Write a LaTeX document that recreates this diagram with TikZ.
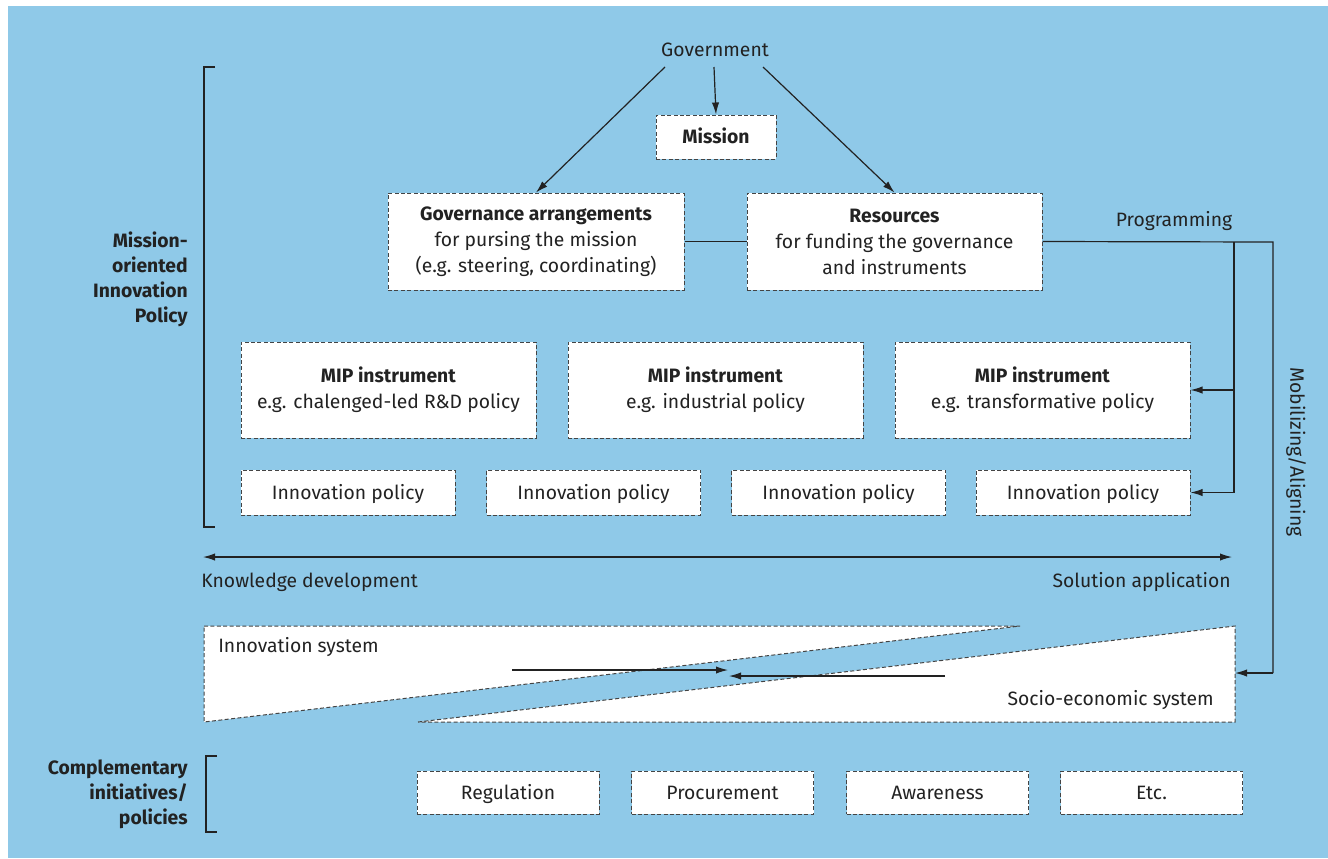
\documentclass[tikz,border=0pt]{standalone}
\usepackage{fontspec}
\setmainfont{Fira Sans}
\usetikzlibrary{arrows.meta}
\definecolor{bgblue}{HTML}{8FC9E8}
\definecolor{ink}{HTML}{222222}
\definecolor{dashc}{HTML}{444444}
\tikzset{
  every node/.style={text=ink, font=\fontsize{14.5}{19.5}\selectfont},
  box/.style={draw=dashc, dash pattern=on 3pt off 1.8pt, line width=0.75pt, fill=white, inner sep=0pt, align=center},
  oneline/.style={text height=11.9pt, text depth=1.9pt},
  arr/.style={draw=ink, line width=0.9pt, -{Latex[length=9pt,width=5.5pt]}},
  ln/.style={draw=ink, line width=0.9pt},
  tri/.style={draw=dashc, dash pattern=on 3pt off 1.8pt, line width=0.75pt, fill=white},
  lbl/.style={font=\fontsize{14.5}{18.8}\selectfont\bfseries, align=right, inner sep=0pt}
}
\begin{document}
\begin{tikzpicture}[x=0.75pt,y=-0.75pt]
\useasboundingbox (0,0) rectangle (1328,858);
\fill[white] (0,0) rectangle (1328,858);
\fill[bgblue] (8,6) rectangle (1328,858);

% top
\node (gvt) at (715,50) {Government};
\node[box, oneline, minimum width=120*0.75pt, minimum height=44*0.75pt] (mis) at (716,137) {\textbf{Mission}};
\node[box, minimum width=296*0.75pt, minimum height=97*0.75pt] (gov) at (536,241.5) {\textbf{Governance arrangements}\\for pursing the mission\\(e.g. steering, coordinating)};
\node[box, minimum width=295*0.75pt, minimum height=97*0.75pt] (res) at (894.5,241.5) {\textbf{Resources}\\for funding the governance\\and instruments};
\coordinate (g1) at (665,67);
\coordinate (g2) at (714,67);
\coordinate (g3) at (763,67);
\draw[arr] (g1) -- (gov.north);
\draw[arr] (g2) -- (mis.north);
\draw[arr] (g3) -- (res.north);
\draw[ln] (gov.east) -- (res.west);

% MIP instruments
\node[box, minimum width=295*0.75pt, minimum height=96*0.75pt] (mip1) at (388.5,390) {\textbf{MIP instrument}\\e.g. chalenged-led R\&D policy};
\node[box, minimum width=295*0.75pt, minimum height=96*0.75pt] (mip2) at (715.5,390) {\textbf{MIP instrument}\\e.g. industrial policy};
\node[box, minimum width=295*0.75pt, minimum height=96*0.75pt] (mip3) at (1042.5,390) {\textbf{MIP instrument}\\e.g. transformative policy};

\node[box, oneline, minimum width=214*0.75pt, minimum height=45*0.75pt] (ip1) at (348,492.5) {Innovation policy};
\node[box, oneline, minimum width=214*0.75pt, minimum height=45*0.75pt] (ip2) at (593.5,492.5) {Innovation policy};
\node[box, oneline, minimum width=214*0.75pt, minimum height=45*0.75pt] (ip3) at (838.5,492.5) {Innovation policy};
\node[box, oneline, minimum width=214*0.75pt, minimum height=45*0.75pt] (ip4) at (1083,492.5) {Innovation policy};

% programming / mobilizing
\coordinate (pj) at (1234,242);
\coordinate (pc) at (1273,242);
\coordinate (pd) at (1273,673);
\coordinate (se) at (1235,673);
\node (prog) at (1174,221) {Programming};
\draw[ln] (res.east) -- (pc) -- (pd);
\draw[arr] (pd) -- (se);
\draw[arr] (pj) |- (mip3.east);
\draw[arr] (pj) |- (ip4.east);
\node[rotate=-90] (mob) at (1296,452) {Mobilizing/Aligning};

% bracket + label
\draw[ln] (215,67) -- (204,67) -- (204,527) -- (215,527);
\node[lbl, anchor=east] (mipl) at (188,279) {Mission-\\oriented\\Innovation\\Policy};

% axis
\coordinate (axl) at (203,557);
\coordinate (axr) at (1232,557);
\draw[ln, {Latex[length=9pt,width=5.5pt]}-{Latex[length=9pt,width=5.5pt]}] (axl) -- (axr);
\node[anchor=west, inner sep=0pt] (kd) at (201,582) {Knowledge development};
\node[anchor=east, inner sep=0pt] (sa) at (1231,582) {Solution application};

% triangles
\draw[tri] (204,626) -- (1020,626) -- (204,722) -- cycle;
\draw[tri] (418,722) -- (1235,626) -- (1235,722) -- cycle;
\node[anchor=west, inner sep=0pt] (ins) at (218,647) {Innovation system};
\node[anchor=east, inner sep=0pt] (ses) at (1214,700) {Socio-economic system};
\coordinate (a1) at (512,670);
\coordinate (a2) at (728,670);
\coordinate (b1) at (945,676);
\coordinate (b2) at (729,676);
\draw[arr] (a1) -- (a2);
\draw[arr] (b1) -- (b2);

% complementary
\draw[ln] (217,756) -- (206,756) -- (206,832) -- (217,832);
\node[lbl, anchor=east] (cpl) at (188,794) {Complementary\\initiatives/\\policies};
\node[box, oneline, minimum width=182*0.75pt, minimum height=43*0.75pt] (c1) at (508,792.5) {Regulation};
\node[box, oneline, minimum width=182*0.75pt, minimum height=43*0.75pt] (c2) at (722.5,792.5) {Procurement};
\node[box, oneline, minimum width=182*0.75pt, minimum height=43*0.75pt] (c3) at (937.5,792.5) {Awareness};
\node[box, oneline, minimum width=182*0.75pt, minimum height=43*0.75pt] (c4) at (1151.5,792.5) {Etc.};
\end{tikzpicture}
\end{document}
